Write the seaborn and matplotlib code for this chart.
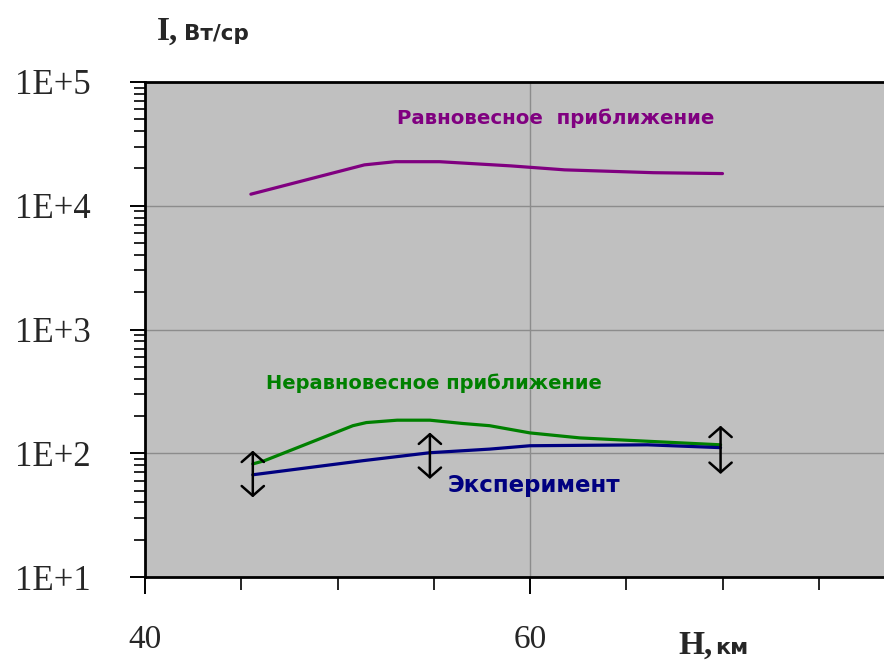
import numpy as np
import pandas as pd
import seaborn as sns
import matplotlib
matplotlib.use("Agg")
import matplotlib.pyplot as plt
from matplotlib.ticker import MultipleLocator, LogLocator, FuncFormatter, NullFormatter

# Altitude H (km) and radiation intensity I (W/sr) for each model
H_eq = [45.5, 51.4, 53.0, 55.3, 59.0, 61.8, 66.4, 70.0]
I_eq = [12400, 21400, 22700, 22700, 21000, 19500, 18500, 18200]

H_neq = [45.6, 46.2, 50.8, 51.5, 53.1, 54.8, 56.5, 57.9, 60.0, 62.6, 66.1, 69.9]
I_neq = [82, 87, 167, 177, 185, 185, 174, 167, 146, 133, 125, 117]

H_exp = [45.6, 51.3, 54.8, 57.9, 60.0, 66.1, 69.9]
I_exp = [67, 87, 101, 108, 115, 117, 111]

# Measurement uncertainty ranges
H_err = [45.6, 54.8, 69.9]
I_err_lo = [44, 62, 68]
I_err_hi = [105, 147, 167]

x_tick_labels = {40: "40", 60: "60"}

series_names = ["eq", "neq", "exp"]
series_colors = {"eq": "#800080", "neq": "#008000", "exp": "#000080"}

df = pd.concat([
    pd.DataFrame({"H": H_eq, "I": I_eq, "model": "eq"}),
    pd.DataFrame({"H": H_neq, "I": I_neq, "model": "neq"}),
    pd.DataFrame({"H": H_exp, "I": I_exp, "model": "exp"}),
], ignore_index=True)

sns.set_style("white")
plt.rcParams["font.family"] = ["DejaVu Sans"]

W, Hpx = 884, 661
fig = plt.figure(figsize=(W / 100, Hpx / 100), dpi=100)
# axes spans 40..80 km; the right part runs past the figure edge
ax = fig.add_axes([145 / W, 1 - 577 / Hpx, 770 / W, (577 - 82) / Hpx])
ax.set_facecolor("#c0c0c0")

sns.lineplot(data=df, x="H", y="I", hue="model", hue_order=series_names,
             palette=series_colors, estimator=None, sort=False,
             linewidth=2.3, legend=False, ax=ax)

for x, lo, hi in zip(H_err, I_err_lo, I_err_hi):
    ax.annotate("", xy=(x, hi), xytext=(x, lo),
                arrowprops=dict(arrowstyle="<->,head_length=0.35,head_width=0.4",
                                color="black", lw=1.8, mutation_scale=20,
                                shrinkA=0, shrinkB=0))

ax.set_yscale("log")
ax.set_xlim(40, 80)
ax.set_ylim(10, 1e5)

ax.xaxis.set_major_locator(MultipleLocator(20))
ax.xaxis.set_minor_locator(MultipleLocator(5))
ax.xaxis.set_major_formatter(FuncFormatter(lambda v, p: x_tick_labels.get(int(round(v)), "")))
ax.yaxis.set_major_locator(LogLocator(base=10))
ax.yaxis.set_minor_locator(LogLocator(base=10, subs=np.arange(2, 10)))
ax.yaxis.set_minor_formatter(NullFormatter())
ax.yaxis.set_major_formatter(FuncFormatter(lambda v, p: "1E+%d" % round(np.log10(v))))

ax.grid(True, which="major", color="#8c8c8c", linewidth=1.0)
ax.set_axisbelow(True)

for side in ["left", "bottom", "top"]:
    ax.spines[side].set_visible(True)
    ax.spines[side].set_color("black")
    ax.spines[side].set_linewidth(2.0)
ax.spines["right"].set_visible(False)

ax.tick_params(axis="y", which="major", direction="out", length=11, width=1.4,
               color="black", pad=28, left=True)
ax.tick_params(axis="y", which="minor", direction="out", length=8, width=1.2,
               color="black", left=True)
ax.tick_params(axis="x", which="major", direction="out", length=12, width=1.4,
               color="black", pad=22, bottom=True)
ax.tick_params(axis="x", which="minor", direction="out", length=9, width=1.2,
               color="black", bottom=True)
for lab in ax.get_yticklabels():
    lab.set_fontfamily("Liberation Serif")
    lab.set_fontsize(25)
for lab in ax.get_xticklabels():
    lab.set_fontfamily("Liberation Serif")
    lab.set_fontsize(24)
ax.set_xlabel("")
ax.set_ylabel("")

# curve labels
ax.text(53.1, 5.1e4, "Равновесное  приближение", color="#800080",
        fontsize=14.2, fontweight="bold", ha="left", va="center")
ax.text(46.3, 366, "Неравновесное приближение", color="#008000",
        fontsize=14, fontweight="bold", ha="left", va="center")
ax.text(55.7, 54.6, "Эксперимент", color="#000080",
        fontsize=16.5, fontweight="bold", ha="left", va="center")

# axis titles
fig.text(157 / W, 1 - 40 / Hpx, "I,", fontfamily="Liberation Serif",
         fontweight="bold", fontsize=24, va="baseline", ha="left")
fig.text(184 / W, 1 - 40 / Hpx, "Вт/ср", fontweight="bold", fontsize=15.5,
         va="baseline", ha="left")
fig.text(678 / W, 1 - 654 / Hpx, "H,", fontfamily="Liberation Serif",
         fontweight="bold", fontsize=24, va="baseline", ha="left")
fig.text(715 / W, 1 - 654 / Hpx, "км", fontweight="bold", fontsize=16,
         va="baseline", ha="left")

fig.savefig("out.png", dpi=100)
